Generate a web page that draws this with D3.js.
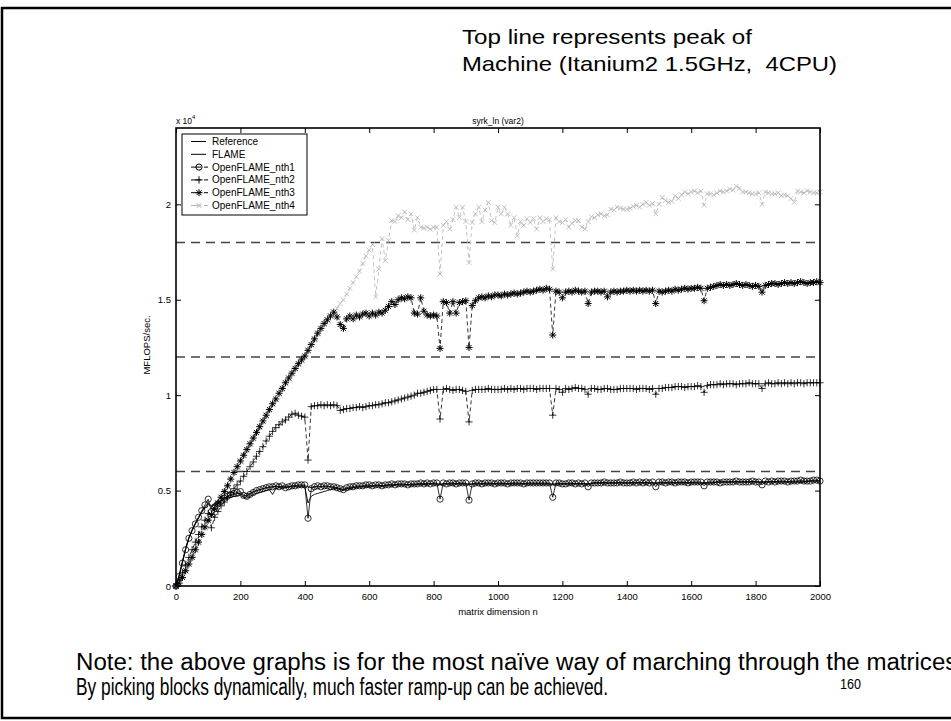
<!DOCTYPE html>
<html>
<head>
<meta charset="utf-8">
<script src="https://cdn.jsdelivr.net/npm/d3@7"></script>
<style>
  body { margin: 0; background: #fff; }
  svg { display: block; font-family: "Liberation Sans", Arial, sans-serif; }
  text { white-space: pre; }
</style>
</head>
<body>
<svg id="chart" width="951" height="721"></svg>
<script>
// matrix sizes n = 10, 20, ..., 2000
const sizes = d3.range(10, 2001, 10);

const reference = [
  600, 1300, 2000, 2550, 2950, 3300, 3600, 3900, 4150, 4350,
  4200, 4300, 4400, 4500, 4600, 4700, 4750, 4800, 4850, 4850,
  4700, 4750, 4850, 4950, 5000, 5050, 5100, 5150, 5150, 5200,
  5200, 5200, 5200, 5200, 5200, 5250, 5250, 5250, 5250, 5250,
  5200, 5150, 5200, 5200, 5200, 5200, 5200, 5200, 5150, 5150,
  5100, 5050, 5100, 5150, 5150, 5200, 5200, 5200, 5250, 5250,
  5250, 5250, 5250, 5250, 5250, 5300, 5300, 5300, 5300, 5300,
  5300, 5300, 5300, 5300, 5350, 5350, 5350, 5350, 5350, 5350,
  5350, 5350, 5350, 5350, 5350, 5350, 5350, 5350, 5350, 5350,
  5350, 5350, 5350, 5350, 5350, 5350, 5350, 5350, 5350, 5350,
  5350, 5350, 5350, 5350, 5350, 5350, 5350, 5350, 5350, 5350,
  5350, 5350, 5350, 5350, 5350, 5350, 5350, 5350, 5350, 5350,
  5350, 5350, 5350, 5350, 5350, 5350, 5350, 5350, 5400, 5400,
  5400, 5400, 5400, 5400, 5400, 5400, 5400, 5400, 5400, 5400,
  5400, 5400, 5400, 5400, 5400, 5400, 5400, 5400, 5400, 5400,
  5400, 5400, 5400, 5400, 5400, 5400, 5400, 5400, 5400, 5400,
  5400, 5400, 5400, 5400, 5400, 5400, 5400, 5450, 5450, 5450,
  5450, 5450, 5450, 5450, 5450, 5450, 5450, 5450, 5450, 5450,
  5450, 5450, 5450, 5450, 5450, 5450, 5450, 5450, 5450, 5450,
  5450, 5450, 5450, 5450, 5450, 5450, 5500, 5500, 5500, 5500
];

const flame = [
  550, 1250, 1950, 2500, 2900, 3250, 3550, 3850, 4100, 4300,
  4150, 4250, 4350, 4450, 4550, 4600, 4650, 4700, 4700, 4750,
  4650, 4600, 4700, 4800, 4850, 4900, 4950, 5000, 5050, 4800,
  5100, 5150, 5150, 5150, 5200, 5200, 5200, 5200, 5200, 5200,
  4350, 4700, 4800, 4850, 4900, 4950, 5000, 5050, 5100, 5100,
  5050, 5000, 5100, 5100, 5150, 5150, 5200, 5200, 5200, 5200,
  5200, 5250, 5250, 5200, 5250, 5250, 5250, 5300, 5300, 5300,
  5300, 5300, 5300, 5300, 5300, 5350, 5300, 5350, 5350, 5350,
  5350, 5300, 5350, 5350, 5350, 5350, 5350, 5350, 5350, 5350,
  5300, 5350, 5350, 5350, 5350, 5350, 5350, 5350, 5350, 5350,
  5350, 5350, 5350, 5350, 5350, 5350, 5350, 5350, 5350, 5350,
  5350, 5350, 5350, 5350, 5350, 5350, 5300, 5350, 5350, 5350,
  5350, 5350, 5350, 5350, 5350, 5350, 5350, 5350, 5350, 5400,
  5400, 5400, 5400, 5400, 5400, 5400, 5400, 5400, 5400, 5400,
  5400, 5400, 5400, 5400, 5400, 5400, 5400, 5400, 5400, 5400,
  5400, 5400, 5400, 5400, 5400, 5400, 5400, 5400, 5400, 5400,
  5400, 5400, 5400, 5400, 5400, 5400, 5400, 5450, 5450, 5450,
  5450, 5450, 5450, 5450, 5450, 5450, 5450, 5450, 5450, 5450,
  5450, 5450, 5450, 5450, 5450, 5450, 5450, 5450, 5450, 5450,
  5450, 5450, 5450, 5450, 5450, 5500, 5500, 5500, 5500, 5500
];

const nth1 = [
  500, 1200, 1900, 2500, 2900, 3250, 3600, 3950, 4250, 4550,
  3900, 4150, 4300, 4450, 4600, 4700, 4800, 4850, 4900, 4950,
  4750, 4700, 4800, 4900, 5000, 5050, 5100, 5150, 5200, 5200,
  5250, 5200, 5250, 5150, 5200, 5250, 5250, 5300, 5300, 5300,
  3550, 5100, 5200, 5250, 5200, 5250, 5250, 5200, 5200, 5150,
  5100, 5050, 5150, 5200, 5200, 5250, 5250, 5250, 5300, 5300,
  5250, 5300, 5300, 5250, 5300, 5300, 5350, 5300, 5350, 5350,
  5350, 5300, 5350, 5350, 5350, 5400, 5350, 5400, 5350, 5400,
  5400, 4550, 5400, 5350, 5400, 5400, 5350, 5400, 5400, 5400,
  4500, 5350, 5400, 5400, 5350, 5400, 5400, 5400, 5350, 5400,
  5400, 5400, 5350, 5400, 5400, 5400, 5400, 5350, 5400, 5400,
  5400, 5400, 5400, 5400, 5400, 5400, 4650, 5400, 5400, 5350,
  5350, 5400, 5400, 5350, 5400, 5350, 5400, 5200, 5400, 5400,
  5400, 5400, 5450, 5400, 5400, 5400, 5400, 5450, 5400, 5400,
  5400, 5450, 5400, 5450, 5400, 5450, 5400, 5450, 5200, 5450,
  5450, 5400, 5450, 5450, 5400, 5450, 5450, 5450, 5400, 5450,
  5450, 5450, 5450, 5250, 5450, 5450, 5450, 5450, 5400, 5450,
  5450, 5450, 5450, 5500, 5450, 5450, 5450, 5450, 5500, 5450,
  5450, 5300, 5500, 5450, 5500, 5450, 5500, 5500, 5500, 5450,
  5500, 5500, 5500, 5550, 5500, 5500, 5500, 5550, 5550, 5500
];

const nth2 = [
  300, 700, 1100, 1500, 1900, 2300, 2700, 3100, 3450, 3800,
  3050, 3600, 3900, 4200, 4400, 4650, 4900, 5100, 5300, 5500,
  5750, 6000, 6250, 6500, 6800, 7050, 7300, 7600, 7850, 8100,
  8300, 8450, 8600, 8700, 8850, 9000, 9050, 8950, 8900, 8850,
  6600, 9400, 9450, 9450, 9500, 9450, 9500, 9450, 9500, 9450,
  9200, 9250, 9300, 9300, 9350, 9350, 9400, 9350, 9400, 9450,
  9450, 9500, 9500, 9550, 9600, 9600, 9650, 9700, 9750, 9800,
  9850, 9900, 9950, 10000, 10100, 10100, 10150, 10200, 10250, 10300,
  10300, 8750, 10300, 10350, 10300, 10250, 10300, 10300, 10250, 10200,
  8600, 10250, 10300, 10300, 10300, 10300, 10350, 10300, 10300, 10300,
  10300, 10350, 10300, 10350, 10300, 10350, 10350, 10300, 10350, 10350,
  10350, 10300, 10350, 10350, 10350, 10350, 8950, 10350, 10300, 10150,
  10350, 10300, 10350, 10400, 10350, 10350, 10300, 10050, 10350, 10350,
  10300, 10300, 10350, 10350, 10300, 10300, 10300, 10350, 10350, 10350,
  10350, 10350, 10300, 10350, 10350, 10350, 10300, 10350, 10050, 10350,
  10350, 10400, 10400, 10400, 10450, 10450, 10450, 10400, 10450, 10450,
  10450, 10500, 10450, 10150, 10500, 10550, 10550, 10550, 10600, 10550,
  10600, 10600, 10600, 10550, 10600, 10600, 10600, 10650, 10600, 10600,
  10600, 10350, 10600, 10650, 10600, 10600, 10650, 10600, 10650, 10600,
  10650, 10600, 10650, 10650, 10600, 10650, 10650, 10650, 10650, 10650
];

const nth3 = [
  150, 450, 800, 1150, 1500, 1900, 2300, 2700, 3100, 3450,
  3750, 4050, 4350, 4650, 4950, 5250, 5600, 5950, 6250, 6550,
  6850, 7150, 7450, 7750, 8050, 8350, 8650, 8950, 9250, 9550,
  9800, 10100, 10350, 10650, 10900, 11150, 11400, 11650, 11850, 12050,
  12350, 12650, 12950, 13250, 13500, 13750, 13950, 14150, 14350, 14100,
  13700, 13500, 14000, 14150, 14000, 14200, 14100, 14250, 14300, 14150,
  14300, 14200, 14350, 14300, 14450, 14650, 14900, 14750, 15000, 15100,
  15050, 15150, 15100, 14300, 14250, 15100, 14400, 14200, 14150, 14200,
  14150, 12450, 14900, 14850, 14300, 14900, 14300, 14850, 14900, 14950,
  12500, 14700, 14950, 15100, 15150, 15100, 15200, 15150, 15250, 15250,
  15200, 15300, 15250, 15300, 15350, 15300, 15350, 15400, 15450, 15400,
  15450, 15500, 15550, 15500, 15600, 15550, 13150, 15450, 15400, 15100,
  15400, 15450, 15400, 15500, 15450, 15400, 15450, 14800, 15400, 15450,
  15450, 15400, 15450, 15150, 15400, 15450, 15400, 15450, 15450, 15500,
  15450, 15500, 15450, 15500, 15450, 15500, 15450, 15500, 14800, 15450,
  15400, 15450, 15500, 15450, 15550, 15500, 15550, 15600, 15550, 15600,
  15600, 15650, 15600, 14950, 15600, 15650, 15700, 15750, 15800, 15750,
  15800, 15750, 15800, 15850, 15800, 15750, 15800, 15750, 15700, 15750,
  15700, 15400, 15750, 15800, 15850, 15850, 15800, 15850, 15900, 15850,
  15900, 15850, 15900, 15950, 15900, 15850, 15900, 15900, 15950, 15900
];

const nth4 = [
  200, 500, 850, 1200, 1550, 1900, 2250, 2650, 3050, 3400,
  3700, 4000, 4300, 4600, 4900, 5200, 5550, 5900, 6200, 6500,
  6800, 7100, 7400, 7700, 8000, 8300, 8600, 8900, 9200, 9500,
  9750, 10050, 10300, 10600, 10850, 11100, 11350, 11600, 11800, 12000,
  12300, 12600, 12900, 13200, 13450, 13700, 13950, 14150, 14350, 14550,
  14800, 15000, 15300, 15600, 15900, 16200, 16500, 16900, 17300, 17600,
  17900, 15150, 16600, 18200, 17050, 18100, 19150, 19100, 19400, 19300,
  19600, 19200, 19500, 18650, 19300, 18800, 18750, 18800, 18700, 18800,
  18800, 16350, 18900, 19100, 18700, 19200, 19850, 19300, 19850, 19100,
  16950, 19050, 19500, 19850, 19100, 19700, 20100, 19150, 19050, 19850,
  19500, 19850, 19500, 18900, 19300, 18350, 19100, 18900, 19250, 19050,
  19250, 18700, 19300, 19100, 19250, 19200, 16600, 19300, 19100, 19050,
  19200, 18800, 19000, 19150, 19150, 18800, 18700, 19100, 19350, 19300,
  19450, 19500, 19400, 19450, 19750, 19700, 19850, 19800, 19750, 19750,
  19800, 19900, 19950, 19850, 20000, 20100, 19950, 20050, 19500, 20000,
  20350, 20200, 20100, 20150, 20450, 20300, 20500, 20650, 20550, 20650,
  20700, 20600, 20700, 19950, 20550, 20550, 20500, 20600, 20700, 20650,
  20700, 20800, 20750, 20950, 20850, 20650, 20650, 20600, 20550, 20550,
  20600, 20000, 20650, 20600, 20550, 20550, 20600, 20450, 20500, 20450,
  20300, 20100, 20700, 20650, 20600, 20700, 20650, 20600, 20600, 20650
];

// horizontal dashed reference levels
const peakLevels = [6000, 12000, 18000];

const xTicks = [0, 200, 400, 600, 800, 1000, 1200, 1400, 1600, 1800, 2000];
const yTicks = [0, 5000, 10000, 15000, 20000];
const yTickLabels = ["0", "0.5", "1", "1.5", "2"];

const seriesNames = ["Reference", "FLAME", "OpenFLAME_nth1", "OpenFLAME_nth2", "OpenFLAME_nth3", "OpenFLAME_nth4"];

const svg = d3.select("#chart");
const plotLeft = 176, plotRight = 820, plotTop = 128, plotBottom = 586;

const x = d3.scaleLinear().domain([0, 2000]).range([plotLeft, plotRight]);
const y = d3.scaleLinear().domain([0, 24000]).range([plotBottom, plotTop]);

// slide border
svg.append("rect")
  .attr("x", 2).attr("y", 8).attr("width", 970).attr("height", 710)
  .attr("fill", "none").attr("stroke", "#000").attr("stroke-width", 2.5);

// slide texts
const slideText = (str, tx, ty, size, len) => {
  svg.append("text")
    .attr("x", tx).attr("y", ty)
    .attr("font-size", size)
    .attr("textLength", len)
    .attr("lengthAdjust", "spacingAndGlyphs")
    .attr("fill", "#000")
    .text(str);
};
slideText("Top line represents peak of", 462, 44, 21, 290);
slideText("Machine (Itanium2 1.5GHz,  4CPU)", 462, 71, 21, 375);
slideText("Note: the above graphs is for the most naïve way of marching through the matrices.", 76, 670, 23, 888);
slideText("By picking blocks dynamically, much faster ramp-up can be achieved.", 76, 695, 23, 532);
slideText("160", 840, 689, 14, 21);

// dashed peak lines
svg.append("g").selectAll("line")
  .data(peakLevels)
  .join("line")
  .attr("x1", x(0)).attr("x2", x(2000) - 4)
  .attr("y1", d => y(d)).attr("y2", d => y(d))
  .attr("stroke", "#444")
  .attr("stroke-width", 1.3)
  .attr("stroke-dasharray", "9,6");

// axes (inward ticks on all four sides)
const axisStyle = g => {
  g.select(".domain").remove();
  g.selectAll(".tick line").attr("stroke", "#000").attr("stroke-width", 1);
  g.selectAll(".tick text").attr("fill", "#000").attr("font-size", 9.5)
    .attr("font-family", "Liberation Sans, Arial, sans-serif");
};
svg.append("g").attr("transform", `translate(0,${plotBottom})`)
  .call(d3.axisBottom(x).tickValues(xTicks).tickSize(-5).tickPadding(7).tickFormat(d3.format("d")))
  .call(axisStyle);
svg.append("g").attr("transform", `translate(0,${plotTop})`)
  .call(d3.axisTop(x).tickValues(xTicks).tickSize(-5).tickFormat(""))
  .call(axisStyle);
svg.append("g").attr("transform", `translate(${plotLeft},0)`)
  .call(d3.axisLeft(y).tickValues(yTicks).tickSize(-5).tickPadding(5)
    .tickFormat((d, i) => yTickLabels[i]))
  .call(axisStyle);
svg.append("g").attr("transform", `translate(${plotRight},0)`)
  .call(d3.axisRight(y).tickValues(yTicks).tickSize(-5).tickFormat(""))
  .call(axisStyle);

// series
const line = d3.line().x(d => x(d[0])).y(d => y(d[1]));
const pts = arr => [[0, 0]].concat(sizes.map((n, i) => [n, arr[i]]));

const markers = {
  circle: "M3.1,0A3.1,3.1,0,1,1,-3.1,0A3.1,3.1,0,1,1,3.1,0Z",
  plus: "M-3.6,0H3.6M0,-3.6V3.6",
  star: "M-3.5,0H3.5M0,-3.5V3.5M-2.5,-2.5L2.5,2.5M-2.5,2.5L2.5,-2.5",
  cross: "M-2.4,-2.4L2.4,2.4M-2.4,2.4L2.4,-2.4"
};

const styles = [
  { data: reference, color: "#000", dash: null, marker: null, width: 0.9 },
  { data: flame, color: "#000", dash: null, marker: null, width: 0.9 },
  { data: nth1, color: "#000", dash: null, marker: "circle", width: 0.8 },
  { data: nth2, color: "#000", dash: "4,3", marker: "plus", width: 0.8 },
  { data: nth3, color: "#000", dash: "4,3", marker: "star", width: 0.8 },
  { data: nth4, color: "#b4b4b4", dash: "4,3", marker: "cross", width: 0.8 }
];

const plot = svg.append("g");
[5, 3, 4, 0, 1, 2].forEach(k => {
  const s = styles[k];
  const p = pts(s.data);
  plot.append("path")
    .attr("d", line(p))
    .attr("fill", "none")
    .attr("stroke", s.color)
    .attr("stroke-width", s.width)
    .attr("stroke-dasharray", s.dash);
  if (s.marker) {
    plot.append("g").selectAll("path")
      .data(p)
      .join("path")
      .attr("transform", d => `translate(${x(d[0])},${y(d[1])})`)
      .attr("d", markers[s.marker])
      .attr("fill", "none")
      .attr("stroke", s.color)
      .attr("stroke-width", s.marker === "star" ? 1 : 0.8);
  }
});

// frame
svg.append("rect")
  .attr("x", plotLeft).attr("y", plotTop)
  .attr("width", plotRight - plotLeft).attr("height", plotBottom - plotTop)
  .attr("fill", "none").attr("stroke", "#000").attr("stroke-width", 1.6);

// titles and labels
svg.append("text").attr("x", (plotLeft + plotRight) / 2).attr("y", 124)
  .attr("text-anchor", "middle").attr("font-size", 8.5).text("syrk_ln (var2)");
svg.append("text").attr("x", (plotLeft + plotRight) / 2).attr("y", 615)
  .attr("text-anchor", "middle").attr("font-size", 9.5).text("matrix dimension n");
svg.append("text")
  .attr("transform", "translate(150,345) rotate(-90)")
  .attr("text-anchor", "middle").attr("font-size", 9.5).text("MFLOPS/sec.");
const expLabel = svg.append("text").attr("x", 176).attr("y", 124).attr("font-size", 8.5);
expLabel.append("tspan").text("x 10");
expLabel.append("tspan").attr("dy", -5).attr("font-size", 6).text("4");

// legend
const lg = svg.append("g").attr("transform", "translate(182,134)");
lg.append("rect").attr("width", 125).attr("height", 81)
  .attr("fill", "#fff").attr("stroke", "#000").attr("stroke-width", 1);
seriesNames.forEach((name, i) => {
  const s = styles[i];
  const ly = 7.5 + i * 12.8;
  lg.append("line").attr("x1", 9).attr("x2", s.marker ? 19 : 24)
    .attr("y1", ly).attr("y2", ly)
    .attr("stroke", s.color).attr("stroke-width", 1);
  if (s.marker) {
    lg.append("path").attr("transform", `translate(17,${ly})`)
      .attr("d", markers[s.marker]).attr("fill", "none")
      .attr("stroke", s.color).attr("stroke-width", 1);
    lg.append("line").attr("x1", 22).attr("x2", 26)
      .attr("y1", ly).attr("y2", ly)
      .attr("stroke", s.color).attr("stroke-width", 1);
  }
  lg.append("text").attr("x", 30).attr("y", ly + 3.5)
    .attr("font-size", 10).text(name);
});
</script>
</body>
</html>
